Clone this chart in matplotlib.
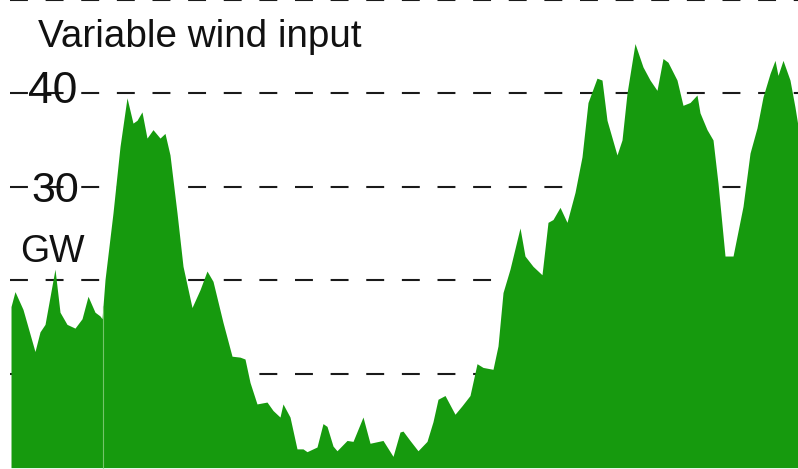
import numpy as np
import matplotlib
matplotlib.use('Agg')
import matplotlib.pyplot as plt

# one week of wind feed-in, hours vs GW
hours = [0.0, 0.85, 2.56, 5.12, 6.19, 7.26, 9.39, 10.46, 11.95, 13.66, 15.16, 16.44,
         17.93, 19.0, 19.43, 20.07, 21.77, 23.27, 24.76, 26.04, 26.9, 27.96, 29.03,
         30.31, 31.81, 32.87, 33.94, 35.44, 36.72, 38.64, 40.35, 41.84, 43.12, 45.26,
         47.18, 48.89, 49.95, 51.02, 52.51, 54.65, 55.93, 57.42, 58.06, 59.56, 61.05,
         62.33, 63.19, 65.32, 66.6, 67.46, 68.74, 69.59, 71.73, 73.01, 75.14, 76.64,
         79.41, 81.55, 83.04, 83.68, 85.17, 86.88, 88.8, 90.08, 91.15, 92.65, 94.78,
         96.27, 97.98, 99.48, 100.76, 102.89, 103.96, 105.03, 106.52, 108.66, 109.72,
         111.43, 113.35, 114.63, 115.7, 117.2, 118.69, 120.4, 121.89, 123.17, 125.09,
         126.16, 127.23, 129.36, 130.43, 131.5, 133.2, 134.91, 136.41, 137.9, 139.18,
         140.25, 142.17, 143.45, 144.95, 146.44, 147.08, 148.58, 149.86, 150.92,
         152.42, 154.13, 156.26, 157.76, 159.25, 160.53, 162.03, 163.09, 163.73,
         164.8, 166.29, 167.36, 168.0]
wind_gw = [17.2, 18.8, 16.9, 12.4, 14.5, 15.3, 21.2, 16.6, 15.3, 14.9, 15.9, 18.3,
           16.6, 16.2, 15.9, 20.1, 27.2, 34.3, 39.5, 36.8, 37.1, 38.0, 35.2,
           36.1, 35.2, 35.7, 33.4, 27.2, 21.5, 17.1, 19.0, 21.0, 19.9, 15.5,
           11.9, 11.8, 11.6, 9.1, 6.8, 7.0, 6.1, 5.4, 6.8, 5.4, 2.0,
           2.0, 1.7, 2.2, 4.7, 4.4, 2.3, 1.8, 2.9, 2.8, 5.4, 2.6,
           2.9, 1.2, 3.8, 3.9, 2.9, 1.8, 2.8, 4.9, 7.3, 7.7, 5.7,
           6.6, 7.7, 11.1, 10.7, 10.5, 13.0, 18.7, 21.2, 25.6, 22.6,
           21.5, 20.6, 26.2, 26.5, 27.8, 26.2, 29.4, 33.2, 39.0, 41.6,
           41.4, 37.1, 33.4, 35.0, 40.0, 45.3, 42.8, 41.4, 40.3, 43.7,
           43.3, 41.4, 38.7, 39.0, 39.8, 37.9, 36.1, 35.0, 30.4,
           22.6, 22.6, 27.9, 33.6, 36.3, 39.6, 42.1, 43.5, 41.9,
           43.5, 41.4, 38.5, 36.5]
grid_levels = [10, 20, 30, 40, 50]
gap_hour = 19.64

green = '#169a0e'
font = ['Liberation Sans', 'DejaVu Sans']

fig = plt.figure(figsize=(7.98, 4.69), dpi=100)
ax = fig.add_axes([0, 0, 1, 1])
ax.set_axis_off()
ax.set_xlim(-2.35, 168.0)
ax.set_ylim(-0.15, 49.95)

ax.hlines(grid_levels, -0.25, 168.0, colors='#1a1a1a', linewidth=1.5,
          linestyles=(0, (8.6, 8.5)), zorder=1)
ax.fill_between(hours, 0, wind_gw, color=green, lw=0, zorder=2)
ax.vlines(gap_hour, 0, np.interp(gap_hour, hours, wind_gw),
          colors='#74c46a', linewidth=0.8, zorder=3)

ax.text(5.76, 44.9, 'Variable wind input', fontsize=27.8, family=font,
        color='#111111', va='baseline', zorder=4)
ax.text(3.7, 38.9, '40', fontsize=32, family=font, color='#111111',
        va='baseline', zorder=4)
ax.text(4.3, 28.4, '30', fontsize=31, family=font, color='#111111',
        va='baseline', zorder=4)
ax.text(2.0, 22.0, 'GW', fontsize=27, family=font, color='#111111',
        va='baseline', zorder=4)

fig.savefig('out.png', dpi=100)
